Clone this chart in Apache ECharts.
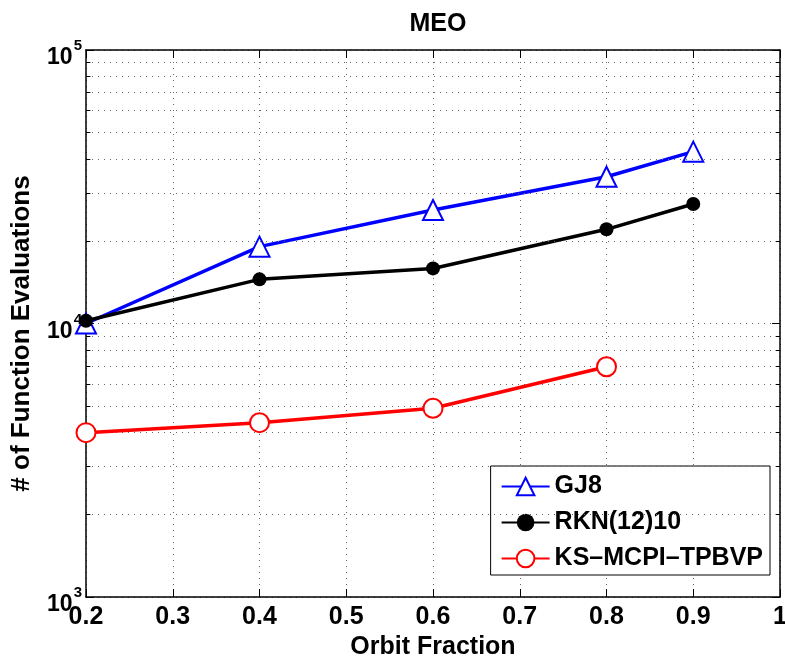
<!DOCTYPE html>
<html>
<head>
<meta charset="utf-8">
<script src="https://cdn.jsdelivr.net/npm/echarts@6/dist/echarts.min.js"></script>
<style>
html,body{margin:0;padding:0;background:#fff;overflow:hidden;}
#chart{width:785px;height:657px;}
</style>
</head>
<body>
<div id="chart"></div>
<script>
const orbitFraction = [0.2, 0.4, 0.6, 0.8, 0.9];
const gj8 = [10000, 19100, 26000, 34400, 42500];
const rkn = [10240, 14500, 15900, 22100, 27350];
const ksFraction = [0.2, 0.4, 0.6, 0.8];
const ksMcpi = [3990, 4340, 4900, 6950];
const seriesNames = ['GJ8', 'RKN(12)10', 'KS\u2013MCPI\u2013TPBVP'];
const xTicks = [0.2, 0.3, 0.4, 0.5, 0.6, 0.7, 0.8, 0.9, 1];
const yMin = 1000, yMax = 100000;
const minorY = [2000,3000,4000,5000,6000,7000,8000,9000,20000,30000,40000,50000,60000,70000,80000,90000];

const FONT = 'Liberation Sans, Arial, Helvetica, sans-serif';
const dotted = {type: [1, 5], color: '#666', width: 1};
const xMin = xTicks[0], xMax = xTicks[xTicks.length - 1];
const tickD = 0.005;

const minorLines = [];
minorY.forEach(v => {
  minorLines.push([{coord: [xMin, v]}, {coord: [xMax, v]}]);
});
const minorTicks = [];
minorY.forEach(v => {
  minorTicks.push([{coord: [xMin, v], lineStyle: {type: 'solid', color: '#000', width: 1}}, {coord: [xMin + tickD, v]}]);
  minorTicks.push([{coord: [xMax - tickD, v], lineStyle: {type: 'solid', color: '#000', width: 1}}, {coord: [xMax, v]}]);
});

const chart = echarts.init(document.getElementById('chart'), null, {renderer: 'canvas'});
const yLabelFmt = v => '{b|10}{s|' + Math.round(Math.log10(v)) + '}';
const yRich = {
  b: {fontSize: 23, fontWeight: 'bold', fontFamily: FONT, color: '#000', lineHeight: 23, padding: [8, 0, 6, 0], verticalAlign: 'top'},
  s: {fontSize: 15, fontWeight: 'bold', fontFamily: FONT, color: '#000', lineHeight: 15, padding: [0, 0, 0, 1], verticalAlign: 'top'}
};

const option = {
  backgroundColor: '#fff',
  animation: false,
  title: {
    text: 'MEO', left: 433, top: 7, textAlign: 'center',
    textStyle: {fontFamily: FONT, fontWeight: 'bold', fontSize: 25, color: '#000'}
  },
  grid: {left: 86, right: 5, top: 50, bottom: 60, containLabel: false, outerBoundsMode: 'none'},
  legend: {
    orient: 'vertical', right: 15, top: 466,
    data: seriesNames,
    itemWidth: 48, itemHeight: 22, itemGap: 11,
    padding: [8, 7, 4, 10],
    borderColor: '#000', borderWidth: 1, backgroundColor: '#fff',
    textStyle: {fontFamily: FONT, fontWeight: 'bold', fontSize: 25, color: '#000', lineHeight: 24}
  },
  xAxis: [{
    type: 'value', min: xMin, max: xMax, interval: 0.1, position: 'bottom',
    name: 'Orbit Fraction', nameLocation: 'middle', nameGap: 29,
    nameTextStyle: {fontFamily: FONT, fontWeight: 'bold', fontSize: 25, color: '#000'},
    axisLine: {show: true, onZero: false, lineStyle: {color: '#000', width: 1.5}},
    axisTick: {show: true, inside: true, length: 8, lineStyle: {color: '#000'}},
    axisLabel: {margin: 8, fontFamily: FONT, fontWeight: 'bold', fontSize: 25, color: '#000',
      formatter: v => String(+v.toFixed(1))},
    splitLine: {show: true, lineStyle: dotted}
  }, {
    type: 'value', min: xMin, max: xMax, interval: 0.1, position: 'top',
    axisLine: {show: true, onZero: false, lineStyle: {color: '#000', width: 1.5}},
    axisTick: {show: true, inside: true, length: 8, lineStyle: {color: '#000'}},
    axisLabel: {show: false}, splitLine: {show: false}
  }],
  yAxis: [{
    type: 'log', logBase: 10, min: yMin, max: yMax, position: 'left',
    name: '# of Function Evaluations', nameLocation: 'middle', nameGap: 51,
    nameTextStyle: {fontFamily: FONT, fontWeight: 'bold', fontSize: 26, color: '#000', padding: [0, 20, 0, 0]},
    axisLine: {show: true, onZero: false, lineStyle: {color: '#000', width: 1.5}},
    axisTick: {show: true, inside: true, length: 8, lineStyle: {color: '#000'}},
    axisLabel: {margin: 4, formatter: yLabelFmt, rich: yRich},
    splitLine: {show: true, lineStyle: dotted}
  }, {
    type: 'log', logBase: 10, min: yMin, max: yMax, position: 'right',
    axisLine: {show: true, onZero: false, lineStyle: {color: '#000', width: 1.5}},
    axisTick: {show: true, inside: true, length: 8, lineStyle: {color: '#000'}},
    axisLabel: {show: false}, splitLine: {show: false}
  }],
  series: [{
    name: '_minor', type: 'line', z: 1, data: [], silent: true,
    markLine: {
      silent: true, symbol: 'none', label: {show: false}, animation: false,
      lineStyle: dotted, emphasis: {disabled: true},
      data: minorLines.concat(minorTicks)
    }
  }, {
    name: seriesNames[0], type: 'line', z: 3,
    data: orbitFraction.map((x, i) => [x, gj8[i]]),
    symbol: 'emptyTriangle', symbolSize: 20,
    lineStyle: {color: '#0000ff', width: 3.5},
    itemStyle: {color: '#0000ff', borderColor: '#0000ff', borderWidth: 3}
  }, {
    name: seriesNames[1], type: 'line', z: 4,
    data: orbitFraction.map((x, i) => [x, rkn[i]]),
    symbol: 'circle', symbolSize: 14,
    lineStyle: {color: '#000', width: 3.5},
    itemStyle: {color: '#000'}
  }, {
    name: seriesNames[2], type: 'line', z: 5,
    data: ksFraction.map((x, i) => [x, ksMcpi[i]]),
    symbol: 'emptyCircle', symbolSize: 19,
    lineStyle: {color: '#ff0000', width: 3.5},
    itemStyle: {color: '#ff0000', borderColor: '#ff0000', borderWidth: 3}
  }]
};
chart.setOption(option);
</script>
</body>
</html>
